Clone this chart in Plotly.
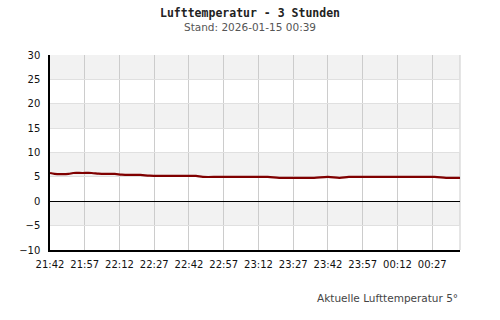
import plotly.graph_objects as go
from datetime import datetime, timedelta

# ---- data ----
times = ["21:42", "21:44", "21:47", "21:50", "21:52", "21:56", "22:00", "22:03",
         "22:06", "22:10", "22:13", "22:17", "22:21", "22:25", "22:30", "22:35",
         "22:40", "22:45", "22:48", "22:55", "23:00", "23:05", "23:10", "23:16",
         "23:21", "23:26", "23:31", "23:36", "23:42", "23:47", "23:51", "23:57",
         "00:03", "00:09", "00:15", "00:21", "00:28", "00:33", "00:36", "00:39"]
temps = [5.8, 5.6, 5.55, 5.6, 5.8, 5.8, 5.8, 5.65,
         5.6, 5.6, 5.45, 5.4, 5.4, 5.25, 5.2, 5.2,
         5.2, 5.2, 5.0, 5.0, 5.0, 5.0, 5.0, 5.0,
         4.8, 4.8, 4.8, 4.8, 5.0, 4.8, 5.0, 5.0,
         5.0, 5.0, 5.0, 5.0, 5.0, 4.8, 4.8, 4.8]
tick_labels = ["21:42", "21:57", "22:12", "22:27", "22:42", "22:57",
               "23:12", "23:27", "23:42", "23:57", "00:12", "00:27"]
y_ticks = [30, 25, 20, 15, 10, 5, 0, -5, -10]
bands = [(25, 30), (15, 20), (5, 10), (-5, 0)]
start_label, end_label = "21:42", "00:39"
title = "Lufttemperatur - 3 Stunden"
subtitle = "Stand: 2026-01-15 00:39"
footer = "Aktuelle Lufttemperatur 5°"


def to_dt(hm):
    h, m = map(int, hm.split(":"))
    day = 14 if h >= 12 else 15
    return datetime(2026, 1, day, h, m)


x = [to_dt(t) for t in times]
x0, x1 = to_dt(start_label), to_dt(end_label)
tickvals = [to_dt(t) for t in tick_labels]

fig = go.Figure()
fig.add_trace(go.Scatter(
    x=x, y=temps, mode="lines",
    line=dict(color="#800000", width=2.2, shape="spline", smoothing=1.0),
    hoverinfo="skip", showlegend=False,
))

shapes = []
for lo, hi in bands:
    shapes.append(dict(type="rect", xref="paper", yref="y", x0=0, x1=1, y0=lo, y1=hi,
                       fillcolor="#f2f2f2", line=dict(width=0), layer="below"))
# right border light
shapes.append(dict(type="line", xref="paper", yref="paper", x0=1, x1=1, y0=0, y1=1,
                   line=dict(color="#cccccc", width=1), layer="below"))

fig.update_layout(
    width=500, height=320,
    margin=dict(l=50, r=40, t=55, b=70),
    paper_bgcolor="white", plot_bgcolor="rgba(0,0,0,0)",
    font=dict(family="DejaVu Sans", size=10, color="#111"),
    shapes=shapes,
    annotations=[
        dict(text="<b>" + title + "</b>", xref="paper", yref="paper", x=(250 - 50) / 410, y=1,
             yshift=42, xanchor="center", yanchor="middle", showarrow=False,
             font=dict(family="DejaVu Sans Mono", size=11.5, color="#222")),
        dict(text=subtitle, xref="paper", yref="paper", x=(250 - 50) / 410, y=1,
             yshift=28, xanchor="center", yanchor="middle", showarrow=False,
             font=dict(family="DejaVu Sans", size=10.5, color="#555")),
        dict(text=footer, xref="paper", yref="paper", x=1, y=0, yshift=-48,
             xanchor="right", yanchor="middle", showarrow=False,
             font=dict(family="DejaVu Sans", size=10.5, color="#444")),
    ],
)
fig.update_xaxes(
    range=[x0, x1], tickvals=tickvals, ticktext=tick_labels,
    showgrid=True, gridcolor="#cccccc", gridwidth=1,
    showline=True, linecolor="black", linewidth=1.5,
    ticks="", ticklabelstandoff=4, zeroline=False,
)
fig.update_yaxes(
    range=[-10, 30], tickvals=y_ticks,
    showgrid=True, gridcolor="#e0e0e0", gridwidth=1,
    showline=True, linecolor="black", linewidth=1.5,
    zeroline=True, zerolinecolor="black", zerolinewidth=1.2,
    ticks="", ticklabelstandoff=6,
)
fig.write_html("out.html")
